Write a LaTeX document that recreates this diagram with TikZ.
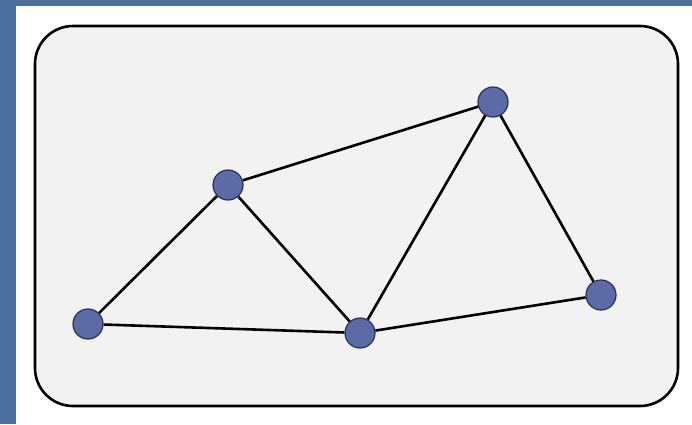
\documentclass[tikz,border=0pt]{standalone}
\usepackage{xcolor}
\usepackage{tikz}

\definecolor{slideblue}{RGB}{76,112,158}
\definecolor{panelgray}{RGB}{242,242,242}
\definecolor{vertfill}{RGB}{92,106,165}
\definecolor{vertedge}{RGB}{40,48,90}

\begin{document}
\begin{tikzpicture}[x=1pt,y=-1pt,
  vert/.style={circle,draw=vertedge,fill=vertfill,line width=1.2pt,minimum size=30pt,inner sep=0pt},
  edge/.style={line width=2.6pt,black}]
\useasboundingbox (0,0) rectangle (692,424);
% slide background and white sheet
\fill[slideblue] (0,0) rectangle (692,424);
\fill[white] (16,6) rectangle (692,424);
\draw[line width=2.6pt,fill=panelgray,rounded corners=38pt] (35,26) rectangle (678,406);
% vertices
\node[vert] (vA) at (88,324) {};
\node[vert] (vB) at (228,185) {};
\node[vert] (vC) at (360,333) {};
\node[vert] (vD) at (493,102) {};
\node[vert] (vE) at (601,295) {};
% edges
\draw[edge] (vA) -- (vB);
\draw[edge] (vA) -- (vC);
\draw[edge] (vB) -- (vC);
\draw[edge] (vB) -- (vD);
\draw[edge] (vC) -- (vD);
\draw[edge] (vD) -- (vE);
\draw[edge] (vC) -- (vE);
\end{tikzpicture}
\end{document}
